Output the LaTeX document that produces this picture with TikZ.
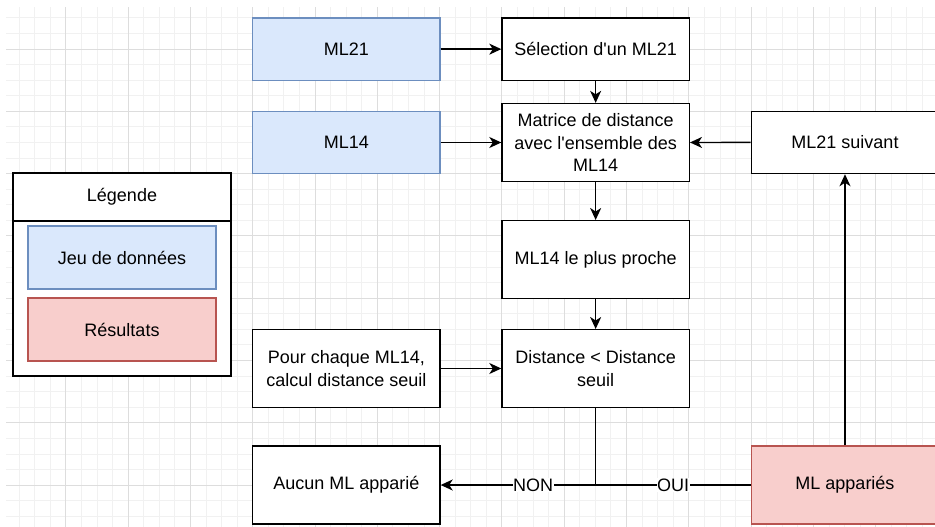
\documentclass[tikz,border=0pt]{standalone}
\usepackage{fontspec}
\setmainfont{Liberation Sans}[Ligatures=TeXOff]
\usetikzlibrary{arrows.meta}
\definecolor{blfill}{HTML}{DAE8FC}
\definecolor{bldraw}{HTML}{6C8EBF}
\definecolor{rdfill}{HTML}{F8CECC}
\definecolor{rddraw}{HTML}{B85450}
\definecolor{gminor}{HTML}{F1F1F1}
\definecolor{gmajor}{HTML}{DDDDDD}
\tikzset{
  box/.style={draw=black, line width=1.4pt, fill=white, minimum width=187.3pt, align=center, inner sep=2pt, font=\fontsize{18}{22.4}\selectfont},
  databox/.style={box, draw=bldraw, fill=blfill},
  resbox/.style={box, draw=rddraw, fill=rdfill},
  conn/.style={line width=1.4pt, -{Stealth[length=12pt,width=11pt,inset=3.5pt]}},
  plain/.style={line width=1.4pt},
  elabel/.style={fill=white, inner sep=0.5pt, font=\fontsize{18}{22}\selectfont}
}
\begin{document}
\begin{tikzpicture}[x=1pt,y=-1pt]
\useasboundingbox (0,0) rectangle (935,527);
\clip (0,0) rectangle (935,527);
\fill[white] (0,0) rectangle (935,527);
% grid
\begin{scope}
\clip (6,8) rectangle (935,527);
\foreach \i in {0,...,62} {
  \draw[gminor, line width=0.9pt] ({3.5+15.575*\i},0) -- ({3.5+15.575*\i},527);
}
\foreach \i in {0,...,36} {
  \draw[gminor, line width=0.9pt] (0,{-13.3+15.575*\i}) -- (935,{-13.3+15.575*\i});
}
\foreach \i in {0,...,15} {
  \draw[gmajor, line width=0.9pt] ({3.5+62.3*\i},0) -- ({3.5+62.3*\i},527);
}
\foreach \i in {0,...,9} {
  \draw[gmajor, line width=0.9pt] (0,{-13.3+62.3*\i}) -- (935,{-13.3+62.3*\i});
}
\end{scope}
% legend
\node[box, minimum width=218pt, minimum height=203pt] (leg) at (122,274.5) {};
\node[box, draw=none, fill=none, minimum height=48pt] (legtitle) at (122,197) {Légende};
\draw[plain] (leg.west |- 0,221) -- (leg.east |- 0,221);
\node[databox, minimum width=188pt, minimum height=63pt] (legdata) at (122,257.5) {Jeu de données};
\node[resbox, minimum width=188pt, minimum height=63pt] (legres) at (122,329.5) {Résultats};
% main nodes
\node[databox, minimum height=62.3pt] (ml21) at (346.35,49.15) {ML21};
\node[box, minimum height=62.3pt] (sel) at (595.65,49.15) {Sélection d'un ML21};
\node[databox, minimum height=62.3pt] (ml14) at (346.35,142.5) {ML14};
\node[box, minimum height=77.9pt] (mat) at (595.65,142.5) {Matrice de distance\\avec l'ensemble des\\ML14};
\node[box, minimum height=78pt] (proche) at (595.65,259.7) {ML14 le plus proche};
\node[box, minimum height=77.6pt] (dist) at (595.65,368.5) {Distance < Distance\\seuil};
\node[box, minimum height=77.6pt] (pour) at (346.35,368.5) {Pour chaque ML14,\\calcul distance seuil};
\node[box, minimum height=78pt] (aucun) at (346.35,485) {Aucun ML apparié};
\node[resbox, minimum height=78pt] (app) at (845,485) {ML appariés};
\node[box, minimum height=62.3pt] (suiv) at (845,142.4) {ML21 suivant};
% connectors
\coordinate (j) at (dist.south |- aucun.east);
\draw[conn] (ml21) -- (sel);
\draw[conn] (ml14) -- (mat);
\draw[conn] (sel) -- (mat);
\draw[conn] (mat) -- (proche);
\draw[conn] (proche) -- (dist);
\draw[conn] (pour) -- (dist);
\draw[conn] (suiv) -- (mat);
\draw[conn] (app) -- (suiv);
\draw[conn] (dist.south) -- (j) -- (aucun.east);
\draw[plain] (j) -- (app.west);
\node[elabel] (non) at (533,485) {NON};
\node[elabel] (oui) at (673,485) {OUI};
\end{tikzpicture}
\end{document}
